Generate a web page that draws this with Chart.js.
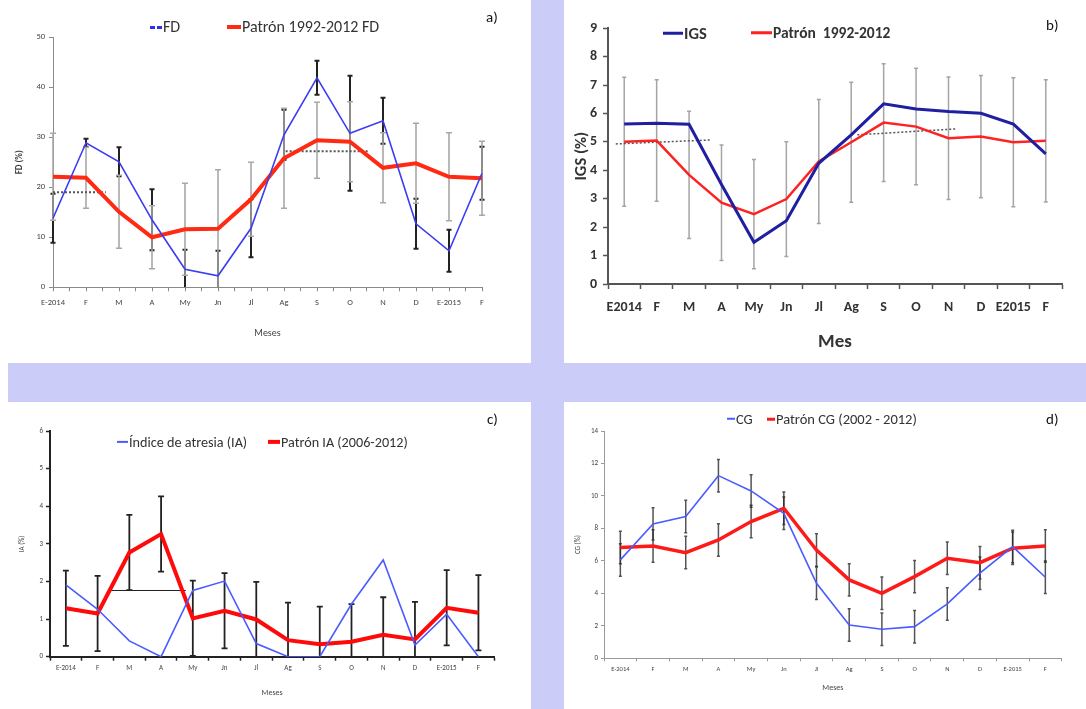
<!DOCTYPE html>
<html><head><meta charset="utf-8">
<script src="https://cdn.jsdelivr.net/npm/chart.js@4.4.1/dist/chart.umd.min.js"></script>
<style>
html,body{margin:0;padding:0;background:#fff;}
#page{position:relative;width:1086px;height:709px;overflow:hidden;background:#fff;font-family:Carlito,'Liberation Sans Narrow','DejaVu Sans Condensed','Open Sans',sans-serif;}
.band{position:absolute;background:#ccccf8;}
canvas{position:absolute;}
.li{position:absolute;display:flex;align-items:center;white-space:pre;color:#333;line-height:1;transform:translateY(-50%);}
.sw{display:inline-block;margin-right:1px;}
.pl{position:absolute;color:#111;font-size:15px;line-height:1;transform:translateY(-50%);}
</style></head>
<body><div id="page">
<div class="band" style="left:531px;top:0;width:33px;height:709px"></div>
<div class="band" style="left:8px;top:363px;width:1078px;height:39px"></div>
<canvas id="ca" width="531" height="363" style="left:0;top:0"></canvas>
<canvas id="cb" width="522" height="363" style="left:564px;top:0"></canvas>
<canvas id="cc" width="523" height="307" style="left:8px;top:402px"></canvas>
<canvas id="cd" width="522" height="307" style="left:564px;top:402px"></canvas>
</div>
<script>
// ---------- DATA ----------
const monthsA = ['E-2014','F','M','A','My','Jn','Jl','Ag','S','O','N','D','E-2015','F'];
const monthsB = ['E2014','F','M','A','My','Jn','Jl','Ag','S','O','N','D','E2015','F'];

// a) FD
const labelsA = ['FD', 'Patrón 1992-2012 FD'];
const fdObs = [13.8, 28.9, 25.1, 13.5, 3.6, 2.3, 11.8, 30.5, 41.9, 30.8, 33.3, 12.7, 7.3, 22.8];
const fdObsErr = [4.9, 0.8, 2.9, 6.1, 3.9, 5.0, 5.8, 5.0, 3.4, 11.5, 4.6, 5.0, 4.2, 5.3];
const fdPat = [22.1, 21.9, 15.1, 10.0, 11.6, 11.7, 17.6, 25.8, 29.4, 29.1, 23.9, 24.8, 22.1, 21.8];
const fdPatErr = [8.7, 6.1, 7.3, 6.3, 9.2, 11.8, 7.4, 10.0, 7.6, 8.0, 7.0, 8.0, 8.8, 7.4];
const fdRef1X = [0, 1.6], fdRef1Y = [19, 19];
const fdRef2X = [7.05, 9.55], fdRef2Y = [27.2, 27.2];

// b) IGS
const labelsB = ['IGS', 'Patrón  1992-2012'];
const igsObs = [5.63, 5.66, 5.62, 3.5, 1.47, 2.23, 4.25, 5.25, 6.34, 6.16, 6.07, 6.01, 5.63, 4.58];
const igsPat = [5.01, 5.05, 3.84, 2.86, 2.46, 2.99, 4.31, 4.99, 5.68, 5.54, 5.13, 5.19, 4.99, 5.04];
const igsPatErr = [2.27, 2.14, 2.24, 2.03, 1.92, 2.02, 2.18, 2.11, 2.07, 2.05, 2.16, 2.15, 2.27, 2.15];
const igsRef1X = [-0.26, 2.67], igsRef1Y = [4.93, 5.07];
const igsRef2X = [7.19, 10.23], igsRef2Y = [5.25, 5.46];

// c) IA
const labelsC = ['Índice de atresia (IA)', 'Patrón IA (2006-2012)'];
const iaObs = [1.91, 1.26, 0.42, 0, 1.76, 2.01, 0.35, 0, 0, 1.4, 2.57, 0.31, 1.13, 0];
const iaPat = [1.29, 1.15, 2.77, 3.26, 1.02, 1.22, 0.99, 0.44, 0.33, 0.4, 0.58, 0.46, 1.3, 1.17];
const iaPatErr = [1, 1, 1, 1, 1, 1, 1, 1, 1, 1, 1, 1, 1, 1];
const iaRefX = [1.37, 3.78], iaRefY = [1.76, 1.76];

// d) CG
const labelsD = ['CG', 'Patrón CG (2002 - 2012)'];
const cgObs = [6.06, 8.28, 8.73, 11.25, 10.31, 8.93, 4.62, 2.05, 1.79, 1.95, 3.35, 5.24, 6.88, 4.99];
const cgObsErr = [1, 1, 1, 1, 1, 1, 1, 1, 1, 1, 1, 1, 1, 1];
const cgPat = [6.82, 6.92, 6.51, 7.29, 8.42, 9.24, 6.67, 4.83, 4.0, 5.03, 6.16, 5.89, 6.78, 6.92];
const cgPatErr = [1, 1, 1, 1, 1, 1, 1, 1, 1, 1, 1, 1, 1, 1];

// ---------- HELPERS ----------
const FONT = "Carlito, 'Liberation Sans Narrow', 'DejaVu Sans Condensed', 'Open Sans', sans-serif";
Chart.defaults.font.family = FONT;
const pts = arr => arr.map((v, i) => ({x: i, y: v}));
const seg = (xs, ys) => xs.map((x, i) => ({x: x, y: ys[i]}));
const isInt = v => Math.abs(v - Math.round(v)) < 1e-9;

const errSets = {};
function drawBars(chart, front) {
  const sets = (errSets[chart.canvas.id] || []).filter(s => !!s.front === front);
  if (!sets.length) return;
  const {ctx, chartArea, scales} = chart;
  const x = scales.x, y = scales.y;
  ctx.save();
  ctx.beginPath();
  ctx.rect(chartArea.left - 10, chartArea.top - 10, chartArea.right - chartArea.left + 20, chartArea.bottom - chartArea.top + 10);
  ctx.clip();
  sets.forEach(s => {
    ctx.strokeStyle = s.color; ctx.lineWidth = s.width; ctx.lineCap = 'butt';
    s.values.forEach((v, i) => {
      const e = s.errors[i];
      const px = x.getPixelForValue(i);
      const lo = Math.max(v - e, y.min);
      const yt = y.getPixelForValue(v + e), yb = y.getPixelForValue(lo);
      ctx.beginPath();
      ctx.moveTo(px, yt); ctx.lineTo(px, yb);
      ctx.moveTo(px - s.cap / 2, yt); ctx.lineTo(px + s.cap / 2, yt);
      if (v - e > y.min) { ctx.moveTo(px - s.cap / 2, yb); ctx.lineTo(px + s.cap / 2, yb); }
      ctx.stroke();
    });
  });
  ctx.restore();
}
Chart.register({
  id: 'errbars',
  beforeDatasetsDraw(chart) { drawBars(chart, false); },
  afterDatasetsDraw(chart) { drawBars(chart, true); }
});

function make(id, p) {
  errSets[id] = p.err;
  const ctx = document.getElementById(id);
  return new Chart(ctx, {
    type: 'line',
    data: {datasets: p.datasets},
    options: {
      responsive: false, animation: false, devicePixelRatio: 1,
      layout: {padding: {left: 0, top: p.top, right: p.right, bottom: 0}},
      plugins: {legend: {display: false}, tooltip: {enabled: false}},
      elements: {point: {radius: 0}, line: {tension: 0}},
      scales: {
        x: {
          type: 'linear', min: p.xmin, max: p.xmax,
          afterFit: s => { s.height = p.xh; },
          afterBuildTicks: s => { const t = []; for (let v = p.xmin; v <= p.xmax + 1e-9; v += 0.5) t.push({value: v}); s.ticks = t; },
          ticks: {autoSkip: false, maxRotation: 0, minRotation: 0, padding: p.xpad, color: p.tickColor,
                  font: {size: p.xfs, weight: p.bold ? 'bold' : 'normal'},
                  callback: v => isInt(v) ? p.labels[Math.round(v)] : ''},
          grid: {drawOnChartArea: false, drawTicks: true, tickLength: p.tl, tickWidth: p.tw,
                 tickColor: c => (c.tick && (p.xoff ? !isInt(c.tick.value) : true)) ? p.axisColor : 'rgba(0,0,0,0)'},
          border: {color: p.axisColor, width: p.bw},
          title: {display: true, text: p.xtitle, color: p.titleColor,
                  font: {size: p.xtfs, weight: p.bold ? 'bold' : 'normal'}, padding: {top: 0, bottom: p.xtpb}}
        },
        y: {
          min: p.ymin, max: p.ymax,
          afterFit: s => { s.width = p.yw; },
          ticks: {stepSize: p.ystep, padding: p.ypad, color: p.tickColor, font: {size: p.yfs, weight: p.bold ? 'bold' : 'normal'}},
          grid: {drawOnChartArea: false, drawTicks: true, tickLength: p.tl, tickWidth: p.tw, tickColor: p.axisColor},
          border: {color: p.axisColor, width: p.bw},
          title: {display: true, text: p.ytitle, color: p.titleColor,
                  font: {size: p.ytfs, weight: p.ytbold ? 'bold' : 'normal'}, padding: {top: p.ytpt, bottom: 0}}
        }
      }
    }
  });
}

// ---------- CHART a ----------
make('ca', {
  labels: monthsA, xmin: 0, xmax: 13, xoff: false,
  top: 37.3, right: 49, xh: 75.7, yw: 53,
  ymin: 0, ymax: 50, ystep: 10,
  xfs: 8.5, yfs: 8.5, xpad: 6, ypad: 4, tl: 4, tw: 1, bw: 1,
  axisColor: '#8a8a8a', tickColor: '#444', titleColor: '#444', bold: false,
  xtitle: 'Meses', xtfs: 10, xtpb: 24, ytitle: 'FD (%)', ytfs: 9, ytbold: true, ytpt: 14.6,
  datasets: [
    {label: labelsA[0], data: pts(fdObs), borderColor: '#3c3cf2', borderWidth: 1.6},
    {label: labelsA[1], data: pts(fdPat), borderColor: '#ff2a12', borderWidth: 4},
    {label: 'ref1', data: seg(fdRef1X, fdRef1Y), borderColor: '#555', borderWidth: 2, borderDash: [2, 2]},
    {label: 'ref2', data: seg(fdRef2X, fdRef2Y), borderColor: '#555', borderWidth: 2, borderDash: [2, 2]}
  ],
  err: [
    {values: fdObs, errors: fdObsErr, color: '#222', width: 2, cap: 5, front: false},
    {values: fdPat, errors: fdPatErr, color: '#a8a8a8', width: 1.6, cap: 6, front: false}
  ]
});

// ---------- CHART b ----------
make('cb', {
  labels: monthsB, xmin: -0.5, xmax: 13.5, xoff: true,
  top: 28.3, right: 24, xh: 79, yw: 44,
  ymin: 0, ymax: 9, ystep: 1,
  xfs: 14, yfs: 14, xpad: 9.6, ypad: 6, tl: 5, tw: 1.5, bw: 2,
  axisColor: '#555', tickColor: '#333', titleColor: '#333', bold: true,
  xtitle: 'Mes', xtfs: 19, xtpb: 9.6, ytitle: 'IGS (%)', ytfs: 16.5, ytbold: true, ytpt: 8,
  datasets: [
    {label: labelsB[0], data: pts(igsObs), borderColor: '#1f1fa0', borderWidth: 3},
    {label: labelsB[1], data: pts(igsPat), borderColor: '#ff2222', borderWidth: 2.5},
    {label: 'ref1', data: seg(igsRef1X, igsRef1Y), borderColor: '#555', borderWidth: 1.5, borderDash: [2, 2]},
    {label: 'ref2', data: seg(igsRef2X, igsRef2Y), borderColor: '#555', borderWidth: 1.5, borderDash: [2, 2]}
  ],
  err: [
    {values: igsPat, errors: igsPatErr, color: '#a4a4a4', width: 1.5, cap: 4, front: false}
  ]
});

// ---------- CHART c ----------
make('cc', {
  labels: monthsA, xmin: -0.5, xmax: 13.5, xoff: true,
  top: 29, right: 36.7, xh: 52.3, yw: 42,
  ymin: 0, ymax: 6, ystep: 1,
  xfs: 7, yfs: 7, xpad: 3, ypad: 3, tl: 4, tw: 1.5, bw: 2,
  axisColor: '#222', tickColor: '#444', titleColor: '#444', bold: false,
  xtitle: 'Meses', xtfs: 8, xtpb: 11.2, ytitle: 'IA (%)', ytfs: 7, ytbold: false, ytpt: 9.8,
  datasets: [
    {label: labelsC[0], data: pts(iaObs), borderColor: '#4b5cff', borderWidth: 1.6},
    {label: labelsC[1], data: pts(iaPat), borderColor: '#ff0a0a', borderWidth: 4},
    {label: 'ref', data: seg(iaRefX, iaRefY), borderColor: '#222', borderWidth: 1}
  ],
  err: [
    {values: iaPat, errors: iaPatErr, color: '#222', width: 1.8, cap: 6, front: false}
  ]
});

// ---------- CHART d ----------
make('cd', {
  labels: monthsA, xmin: -0.5, xmax: 13.5, xoff: true,
  top: 29, right: 24.3, xh: 50.7, yw: 40,
  ymin: 0, ymax: 14, ystep: 2,
  xfs: 6.5, yfs: 7, xpad: 3.7, ypad: 3, tl: 3, tw: 1, bw: 1,
  axisColor: '#9a9a9a', tickColor: '#444', titleColor: '#444', bold: false,
  xtitle: 'Meses', xtfs: 8, xtpb: 16.2, ytitle: 'CG (%)', ytfs: 7, ytbold: false, ytpt: 9.8,
  datasets: [
    {label: labelsD[0], data: pts(cgObs), borderColor: '#4a5cff', borderWidth: 1.6},
    {label: labelsD[1], data: pts(cgPat), borderColor: '#ff1a1a', borderWidth: 3.5}
  ],
  err: [
    {values: cgObs, errors: cgObsErr, color: 'rgba(40,40,40,0.8)', width: 1.5, cap: 3, front: false},
    {values: cgPat, errors: cgPatErr, color: 'rgba(40,40,40,0.8)', width: 1.5, cap: 3, front: false}
  ]
});

// ---------- LEGENDS & PANEL LABELS ----------
const page = document.getElementById('page');
function legendItem(x, y, text, sw, fs, bold) {
  const d = document.createElement('div');
  d.className = 'li';
  d.style.left = x + 'px'; d.style.top = y + 'px';
  d.style.fontSize = fs + 'px'; d.style.fontWeight = bold ? 'bold' : 'normal';
  const s = document.createElement('span');
  s.className = 'sw';
  s.style.width = sw.w + 'px'; s.style.height = sw.h + 'px';
  s.style.background = sw.dash ? `repeating-linear-gradient(90deg, ${sw.c} 0 5px, transparent 5px 7px)` : sw.c;
  d.appendChild(s);
  d.appendChild(document.createTextNode(text));
  page.appendChild(d);
}
function panelLabel(x, y, t) {
  const d = document.createElement('div');
  d.className = 'pl'; d.style.left = x + 'px'; d.style.top = y + 'px';
  d.textContent = t; page.appendChild(d);
}
legendItem(150, 27, labelsA[0], {w: 12, h: 3, c: '#2f2ff0', dash: true}, 16, false);
legendItem(227, 27, labelsA[1], {w: 14, h: 4, c: '#ff2a12'}, 16, false);
legendItem(663, 33, labelsB[0], {w: 20, h: 3, c: '#1f1fa0'}, 16.5, true);
legendItem(751, 33, labelsB[1], {w: 21, h: 3, c: '#ff2222'}, 15.5, true);
legendItem(117, 442, labelsC[0], {w: 11, h: 1.6, c: '#4b5cff'}, 14.2, false);
legendItem(268, 442, labelsC[1], {w: 12, h: 4, c: '#ff0a0a'}, 14.2, false);
legendItem(727, 419, labelsD[0], {w: 8, h: 1.6, c: '#4a5cff'}, 14.5, false);
legendItem(767, 419, labelsD[1], {w: 8, h: 3.5, c: '#ff1a1a'}, 14.5, false);
panelLabel(486, 17, 'a)');
panelLabel(1046, 25, 'b)');
panelLabel(487, 419, 'c)');
panelLabel(1046, 419, 'd)');
</script>
</body></html>
